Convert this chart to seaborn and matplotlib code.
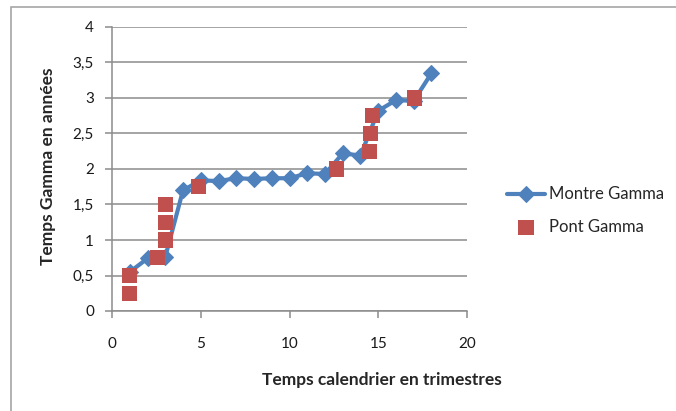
import matplotlib
matplotlib.use("Agg")
import matplotlib.pyplot as plt
from matplotlib.patches import Rectangle
from matplotlib.ticker import FuncFormatter
import seaborn as sns
import pandas as pd

# Montre Gamma series (calendar quarter -> gamma time in years)
montre_x = [1, 2, 3, 4, 5, 6, 7, 8, 9, 10, 11, 12, 13, 14, 15, 16, 17, 18]
montre_y = [0.55, 0.74, 0.76, 1.70, 1.84, 1.83, 1.87, 1.86, 1.87, 1.87,
            1.94, 1.93, 2.22, 2.19, 2.82, 2.97, 2.96, 3.35]

# Pont Gamma points
pont_x = [1.0, 1.0, 2.55, 3.0, 3.0, 3.0, 4.85, 12.65, 14.5, 14.55, 14.7, 17.05]
pont_y = [0.25, 0.5, 0.75, 1.0, 1.25, 1.5, 1.75, 2.0, 2.25, 2.5, 2.75, 3.0]

x_ticks = [0, 5, 10, 15, 20]
y_ticks = [0, 0.5, 1, 1.5, 2, 2.5, 3, 3.5, 4]

sns.set_theme(style="white")
plt.rcParams["font.family"] = ["Lato", "DejaVu Sans"]

blue = "#4F81BD"
red = "#C0504D"
grid_c = "#8C8C8C"

df_m = pd.DataFrame({"x": montre_x, "y": montre_y})
df_p = pd.DataFrame({"x": pont_x, "y": pont_y})

W, H = 676, 411
fig = plt.figure(figsize=(W / 100, H / 100), dpi=100)
ax = fig.add_axes([112 / W, 1 - 311 / H, (467 - 112) / W, (311 - 27) / H])

# outer chart frame
fig.patches.append(Rectangle((11 / W, -0.05), 1.2, 1 - 7 / H + 0.05,
                             transform=fig.transFigure, fill=False,
                             edgecolor="#A6A6A6", linewidth=1.2, zorder=0))

sns.lineplot(data=df_m, x="x", y="y", ax=ax, color=blue, linewidth=3,
             marker="D", markersize=8, markeredgecolor=blue,
             label="Montre Gamma", zorder=3)
sns.scatterplot(data=df_p, x="x", y="y", ax=ax, color=red, marker="s",
                s=118, edgecolor="none", label="Pont Gamma", zorder=4)

ax.set_xlim(0, 20)
ax.set_ylim(0, 4)
ax.set_xticks(x_ticks)
ax.set_yticks(y_ticks)
fmt = FuncFormatter(lambda v, _: f"{v:g}".replace(".", ","))
ax.xaxis.set_major_formatter(fmt)
ax.yaxis.set_major_formatter(fmt)

ax.grid(axis="y", color=grid_c, linewidth=1.1)
ax.grid(axis="x", visible=False)
ax.set_axisbelow(True)
for side in ["top", "right"]:
    ax.spines[side].set_visible(False)
for side in ["left", "bottom"]:
    ax.spines[side].set_color(grid_c)
    ax.spines[side].set_linewidth(1.1)

ax.tick_params(axis="both", which="major", direction="out", length=5,
               width=1.1, color=grid_c, labelsize=11, labelcolor="#1a1a1a",
               bottom=True, left=True)
ax.tick_params(axis="x", pad=14)
ax.tick_params(axis="y", pad=8)

ax.set_xlabel("Temps calendrier en trimestres", fontsize=12.5,
              fontweight="bold")
ax.xaxis.set_label_coords(0.76, -0.215)
ax.set_ylabel("Temps Gamma en années", fontsize=12.5, fontweight="bold")
ax.yaxis.set_label_coords(-0.158, 0.51)

leg = ax.legend(loc="center left", bbox_to_anchor=(1.07, 0.353), frameon=False,
                fontsize=12, handlelength=2.3, labelspacing=1.0,
                handletextpad=0.2)

fig.savefig("out.png", dpi=100, facecolor="white")
